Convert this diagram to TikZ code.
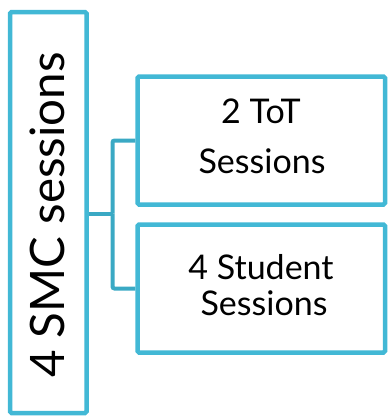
\documentclass[tikz,border=0pt]{standalone}
\usepackage{fontspec}
\setmainfont{Lato}
\usetikzlibrary{backgrounds}
\definecolor{boxc}{HTML}{42B8D5}
\definecolor{linkc}{HTML}{3AA9C4}
\begin{document}
\begin{tikzpicture}[x=1pt,y=-1pt,
  boxstyle/.style={draw=boxc, line width=4.5pt, rounded corners=1.5pt, fill=white, inner sep=0pt},
  linkstyle/.style={draw=linkc, line width=4pt},
  txt/.style={inner sep=0pt, anchor=base, font=\fontsize{34}{40}\selectfont},
  bigtxt/.style={inner sep=0pt, anchor=base, rotate=90, font=\fontsize{47.5}{52}\selectfont}]
\useasboundingbox (0,0) rectangle (388,418);
\node[boxstyle, minimum width=76.5pt, minimum height=401pt] (smc) at (48.25,212.5) {};
\node[boxstyle, minimum width=247.5pt, minimum height=128pt] (tot) at (261.25,140.5) {};
\node[boxstyle, minimum width=247.5pt, minimum height=128pt] (stu) at (261.25,288.5) {};
\coordinate (j) at (112.5,213.5);
\begin{scope}[on background layer]
\draw[linkstyle] (smc.east |- j) -- (j);
\draw[linkstyle, rounded corners=2pt] (j) |- (tot.west);
\draw[linkstyle, rounded corners=2pt] (j) |- (stu.west);
\end{scope}
\node[bigtxt] (smct) at (64,215) {4 SMC sessions};
\node[txt] (tot1) at (261,123) {2 ToT};
\node[txt] (tot2) at (262,173) {Sessions};
\node[txt] (stu1) at (261,279) {4 Student};
\node[txt] (stu2) at (264,315) {Sessions};
\end{tikzpicture}
\end{document}
